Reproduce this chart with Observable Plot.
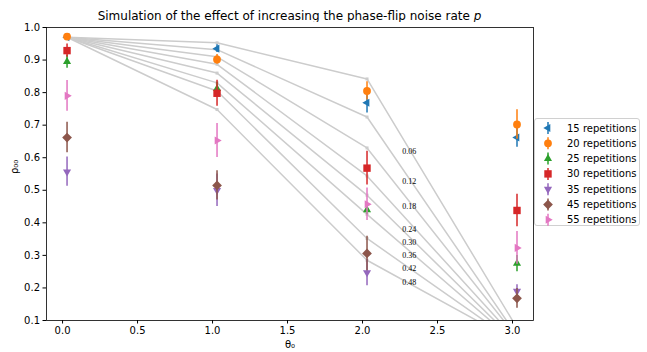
<!DOCTYPE html>
<html><head><meta charset="utf-8">
<script src="https://cdn.jsdelivr.net/npm/d3@7"></script>
<script src="https://cdn.jsdelivr.net/npm/@observablehq/plot@0.6"></script>
<style>
body{margin:0;background:#fff;font-family:"DejaVu Sans",sans-serif;}
#wrap{position:relative;width:647px;height:352px;overflow:hidden;background:#fff}
#title{position:absolute;left:46px;width:487px;top:9px;text-align:center;font-size:12px;line-height:15px;color:#000;white-space:nowrap}
#chart{position:absolute;left:0;top:22px}
#legend{position:absolute;left:534px;top:118px;width:106px;height:108px;border:1px solid #d0d0d0;border-radius:3px;box-sizing:border-box;background:#fff}
</style></head><body>
<div id="wrap">
  <div id="title">Simulation of the effect of increasing the phase-flip noise rate <i>p</i></div>
  <div id="chart"></div>
  <div id="legend"></div>
</div>
<script>
// ---- data ----
const thetas = [0.03, 1.03, 2.03, 3.03];
const noiseRates = ["0.06", "0.12", "0.18", "0.24", "0.30", "0.36", "0.42", "0.48"];
const theory006 = [0.97, 0.953, 0.842, 0.077];
const theory012 = [0.97, 0.932, 0.725, 0.053];
const theory018 = [0.97, 0.910, 0.630, 0.048];
const theory024 = [0.97, 0.887, 0.544, 0.039];
const theory030 = [0.97, 0.860, 0.485, 0.032];
const theory036 = [0.97, 0.830, 0.426, 0.029];
const theory042 = [0.97, 0.805, 0.352, 0.029];
const theory048 = [0.97, 0.748, 0.285, 0.032];
const noiseLabelY = [0.620, 0.528, 0.451, 0.380, 0.340, 0.300, 0.261, 0.218];

const seriesNames = ["15 repetitions", "20 repetitions", "25 repetitions", "30 repetitions", "35 repetitions", "45 repetitions", "55 repetitions"];
const rep15 = [0.970, 0.935, 0.769, 0.662]; const err15 = [0.005, 0.012, 0.032, 0.030];
const rep20 = [0.972, 0.902, 0.805, 0.702]; const err20 = [0.005, 0.015, 0.028, 0.045];
const rep25 = [0.895, 0.812, 0.440, 0.275]; const err25 = [0.020, 0.020, 0.015, 0.025];
const rep30 = [0.929, 0.798, 0.568, 0.438]; const err30 = [0.020, 0.040, 0.052, 0.050];
const rep35 = [0.557, 0.500, 0.247, 0.190]; const err35 = [0.045, 0.050, 0.040, 0.020];
const rep45 = [0.662, 0.515, 0.306, 0.168]; const err45 = [0.047, 0.045, 0.053, 0.030];
const rep55 = [0.790, 0.653, 0.457, 0.323]; const err55 = [0.047, 0.052, 0.050, 0.050];
const xTicks = [0.0, 0.5, 1.0, 1.5, 2.0, 2.5, 3.0];
const yTicks = [0.1, 0.2, 0.3, 0.4, 0.5, 0.6, 0.7, 0.8, 0.9, 1.0];

// ---- styles ----
const colors = ["#1f77b4", "#ff7f0e", "#2ca02c", "#d62728", "#9467bd", "#8c564b", "#e377c2"];
function tri(angle) {
  return {draw(ctx, size) {
    const R = Math.sqrt(size / Math.PI) * 1.2;
    for (let i = 0; i < 3; i++) {
      const a = angle + i * 2 * Math.PI / 3;
      const x = R * Math.cos(a), y = R * Math.sin(a);
      if (i === 0) ctx.moveTo(x, y); else ctx.lineTo(x, y);
    }
    ctx.closePath();
  }};
}
const sqr = {draw(ctx, size){ const s = Math.sqrt(size/Math.PI)*0.95; ctx.moveTo(-s,-s); ctx.lineTo(s,-s); ctx.lineTo(s,s); ctx.lineTo(-s,s); ctx.closePath(); }};
const dia = {draw(ctx, size){ const s = Math.sqrt(size/Math.PI)*1.25; ctx.moveTo(0,-s); ctx.lineTo(s,0); ctx.lineTo(0,s); ctx.lineTo(-s,0); ctx.closePath(); }};
const circ = {draw(ctx, size){ const r = Math.sqrt(size/Math.PI); ctx.moveTo(r,0); ctx.arc(0,0,r,0,2*Math.PI); }};
const symbols = [tri(Math.PI), circ, tri(-Math.PI/2), sqr, tri(Math.PI/2), dia, tri(0)];
const markR = 3.9;

const theory = [theory006, theory012, theory018, theory024, theory030, theory036, theory042, theory048];
const reps = [rep15, rep20, rep25, rep30, rep35, rep45, rep55];
const errs = [err15, err20, err25, err30, err35, err45, err55];

const lineRows = [];
noiseRates.forEach((p, i) => thetas.forEach((t, j) => lineRows.push({p, theta: t, v: theory[i][j]})));
const labelRows = noiseRates.map((p, i) => ({p, v: noiseLabelY[i]}));

const seriesMarks = [];
seriesNames.forEach((s, k) => {
  const rows = thetas.map((t, j) => ({theta: t, v: reps[k][j], e: errs[k][j]}));
  seriesMarks.push(Plot.ruleX(rows, {x: "theta", y1: d => d.v - d.e, y2: d => d.v + d.e, stroke: colors[k], strokeWidth: 1.5}));
  seriesMarks.push(Plot.dot(rows, {x: "theta", y: "v", symbol: symbols[k], r: markR, fill: colors[k], stroke: "none"}));
});

const chart = Plot.plot({
  width: 647, height: 330,
  marginLeft: 46, marginRight: 114, marginTop: 5, marginBottom: 32,
  style: {fontFamily: "DejaVu Sans", fontSize: "10px", color: "#000", background: "#fff"},
  x: {domain: [-0.107, 3.14]},
  y: {domain: [0.1, 1.0]},
  marks: [
    Plot.line(lineRows, {x: "theta", y: "v", z: "p", stroke: "#cccccc", strokeWidth: 1.5, clip: true}),
    Plot.dot(lineRows, {x: "theta", y: "v", symbol: "square", r: 1.7, fill: "#cccccc", clip: true}),
    Plot.text(labelRows, {x: () => 2.265, y: "v", text: "p", textAnchor: "start", fontFamily: "Liberation Serif", fontSize: 8, fill: "#000"}),
    ...seriesMarks,
    Plot.frame({stroke: "#000", strokeWidth: 0.8}),
    Plot.axisX({ticks: xTicks, tickFormat: d3.format(".1f"), tickSize: 3.5, tickPadding: 3, label: null}),
    Plot.axisY({ticks: yTicks, tickFormat: d3.format(".1f"), tickSize: 3.5, tickPadding: 3, label: null}),
    Plot.text(["θ₀"], {frameAnchor: "bottom", dy: 27, fontSize: 10}),
    Plot.text(["ρ₀₀"], {frameAnchor: "left", rotate: -90, dx: -32, fontSize: 10})
  ]
});
document.getElementById("chart").appendChild(chart);

// ---- legend ----
const lg = d3.select("#legend").append("svg").attr("width", 106).attr("height", 108);
seriesNames.forEach((s, k) => {
  const y = 9 + k * 15.3;
  const g = lg.append("g").attr("transform", `translate(13,${y})`);
  g.append("line").attr("x1", 0).attr("x2", 0).attr("y1", -6).attr("y2", 6).attr("stroke", colors[k]).attr("stroke-width", 1.5);
  const p = d3.path(); symbols[k].draw(p, Math.PI * markR * markR);
  g.append("path").attr("d", p.toString()).attr("fill", colors[k]);
  lg.append("text").attr("x", 32).attr("y", y).attr("dy", "0.35em").attr("font-size", "10px").attr("font-family", "DejaVu Sans").text(s);
});
</script>
</body></html>
